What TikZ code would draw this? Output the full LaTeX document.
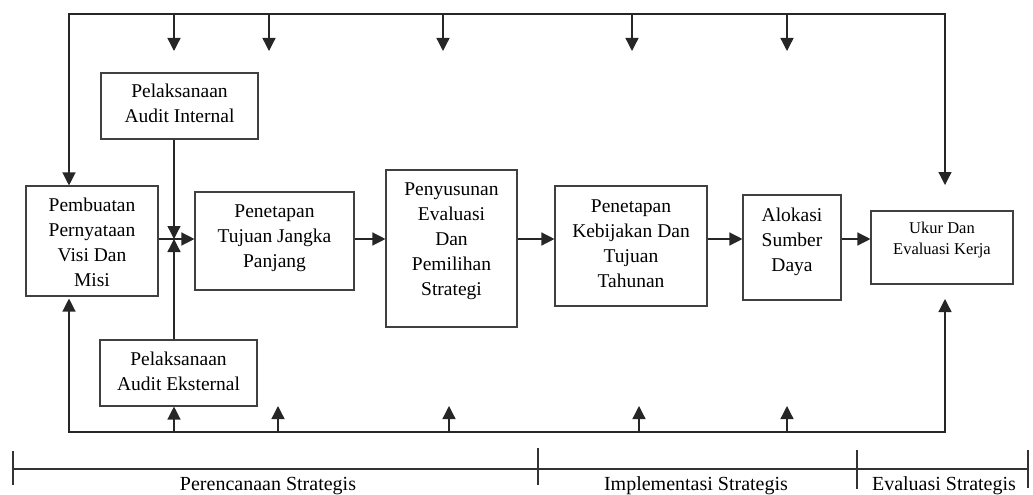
\documentclass[tikz,border=0pt]{standalone}
\usepackage{fontspec}
\setmainfont{Liberation Serif}
\usetikzlibrary{arrows.meta}
\newcommand{\mybt}[2]{\raisebox{#1}[0pt][0pt]{\begin{tabular}{@{}c@{}}#2\end{tabular}}}
\begin{document}
\begin{tikzpicture}[x=1pt,y=-1pt,
  box/.style={draw=black!75,line width=1.1pt,inner sep=0pt,font=\fontsize{19.5}{25}\selectfont},
  conn/.style={line width=1.3pt,draw=black!85,-{Triangle[length=13pt,width=13pt]}},
  wire/.style={line width=1.3pt,draw=black!80},
  lbl/.style={font=\fontsize{20}{24}\selectfont,anchor=base,inner sep=0pt}]
\useasboundingbox (0,0) rectangle (1033,495);

% boxes
\node[box,minimum width=132pt,minimum height=110pt] (visi) at (92,241) {\mybt{-8pt}{Pembuatan\\Pernyataan\\Visi Dan\\Misi}};
\node[box,minimum width=157pt,minimum height=66pt] (internal) at (179.5,106) {\mybt{-4.5pt}{Pelaksanaan\\Audit Internal}};
\node[box,minimum width=157pt,minimum height=66pt] (eksternal) at (178.5,373) {\mybt{-5.5pt}{Pelaksanaan\\Audit Eksternal}};
\node[box,minimum width=159pt,minimum height=98pt] (tujuan) at (274.5,241) {\mybt{-2pt}{Penetapan\\Tujuan Jangka\\Panjang}};
\node[box,minimum width=131pt,minimum height=157pt] (susun) at (451.5,248.5) {\mybt{2.5pt}{Penyusunan\\Evaluasi\\Dan\\Pemilihan\\Strategi}};
\node[box,minimum width=152pt,minimum height=120pt] (kebijakan) at (631,246) {\mybt{-4pt}{Penetapan\\Kebijakan Dan\\Tujuan\\Tahunan}};
\node[box,minimum width=98pt,minimum height=105pt] (alokasi) at (792,247.5) {\mybt{0.5pt}{Alokasi\\Sumber\\Daya}};
\node[box,minimum width=142pt,minimum height=73pt,font=\fontsize{16.5}{21}\selectfont] (ukur) at (942,247.5) {\mybt{3pt}{Ukur Dan\\Evaluasi Kerja}};

% main flow
\coordinate (jy) at (0,239);
\coordinate (jn) at (174,239);
\draw[conn] (visi.east |- jy) -- (tujuan.west |- jy);
\draw[conn] (tujuan.east |- jy) -- (susun.west |- jy);
\draw[conn] (susun.east |- jy) -- (kebijakan.west |- jy);
\draw[conn] (kebijakan.east |- jy) -- (alokasi.west |- jy);
\draw[conn] (alokasi.east |- jy) -- (ukur.west |- jy);
\draw[conn] (internal.south -| jn) -- (jn);
\draw[conn] (eksternal.north -| jn) -- (jn);

% top feedback loop
\coordinate (tl) at (69,14);
\coordinate (tr) at (945,14);
\coordinate (ukin) at (945,185);
\draw[conn] (tr) -- (tl) -- (visi.north -| tl);
\draw[conn] (tl) -- (tr) -- (ukin);
\foreach \x [count=\i] in {174,269,443,632,787} {
  \coordinate (ts\i) at (\x,14);
  \coordinate (te\i) at (\x,51);
  \draw[conn] (ts\i) -- (te\i);
}

% bottom feedback loop
\coordinate (bl) at (69,432);
\coordinate (br) at (945,432);
\coordinate (ukout) at (945,299);
\draw[conn,shorten >=2pt] (br) -- (bl) -- (visi.south -| bl);
\draw[conn] (bl) -- (br) -- (ukout);
\coordinate (bs1) at (174,432);
\draw[conn] (bs1) -- (eksternal.south -| bs1);
\foreach \x [count=\i from 2] in {278,449,639,787} {
  \coordinate (bs\i) at (\x,432);
  \coordinate (be\i) at (\x,406);
  \draw[conn] (bs\i) -- (be\i);
}

% timeline
\coordinate (la) at (13,469);
\coordinate (lb) at (1028,469);
\draw[wire] (la) -- (lb);
\coordinate (k1a) at (13,451);   \coordinate (k1b) at (13,485);
\coordinate (k2a) at (538,448);  \coordinate (k2b) at (538,485);
\coordinate (k3a) at (857,450);  \coordinate (k3b) at (857,489);
\coordinate (k4a) at (1028,450); \coordinate (k4b) at (1028,488);
\draw[wire] (k1a) -- (k1b);
\draw[wire] (k2a) -- (k2b);
\draw[wire] (k3a) -- (k3b);
\draw[wire] (k4a) -- (k4b);
\node[lbl] (p1) at (268,490) {Perencanaan Strategis};
\node[lbl] (p2) at (696,490) {Implementasi Strategis};
\node[lbl] (p3) at (944,490) {Evaluasi Strategis};
\end{tikzpicture}
\end{document}
